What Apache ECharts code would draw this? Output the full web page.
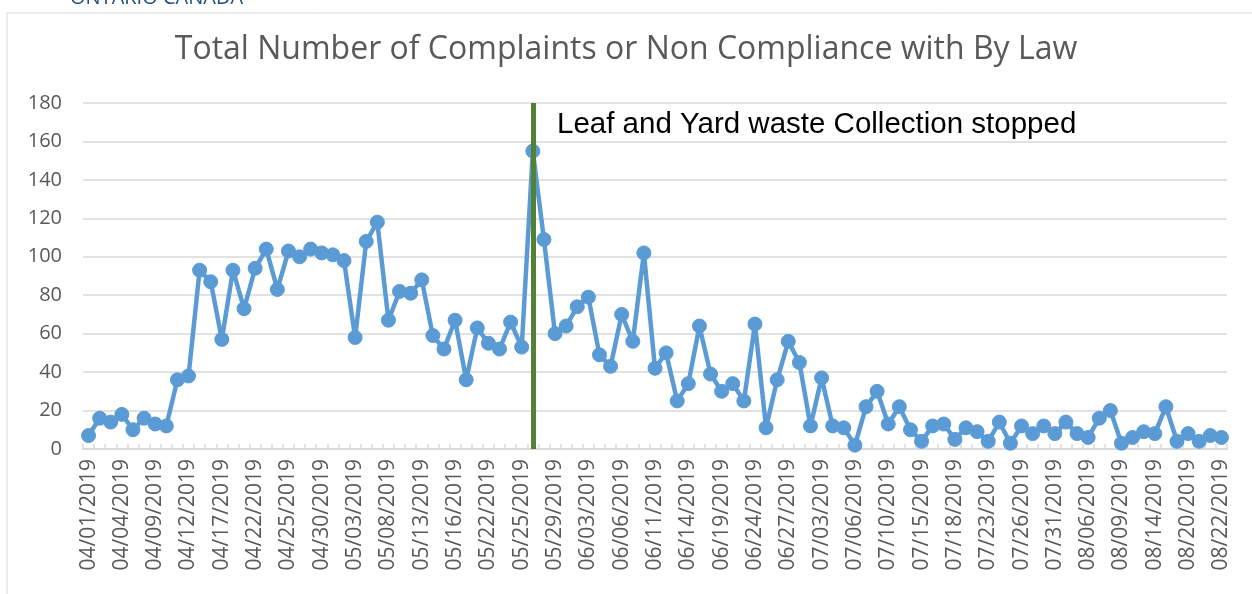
<!DOCTYPE html>
<html>
<head>
<meta charset="utf-8">
<script src="https://cdn.jsdelivr.net/npm/echarts@6/dist/echarts.min.js"></script>
<style>
html,body{margin:0;padding:0;background:#fff;}
#chart{width:1252px;height:594px;}
</style>
</head>
<body>
<div id="chart"></div>
<script>
const titleText = "Total Number of Complaints or Non Compliance with By Law";
const annotationText = "Leaf and Yard waste Collection stopped";
const headerText = "ONTARIO CANADA";
const markerIndex = 40;

const dates = [
"04/01/2019","04/02/2019","04/03/2019","04/04/2019","04/05/2019","04/08/2019","04/09/2019","04/10/2019","04/11/2019","04/12/2019",
"04/15/2019","04/16/2019","04/17/2019","04/18/2019","04/19/2019","04/22/2019","04/23/2019","04/24/2019","04/25/2019","04/26/2019",
"04/29/2019","04/30/2019","05/01/2019","05/02/2019","05/03/2019","05/06/2019","05/07/2019","05/08/2019","05/09/2019","05/10/2019",
"05/13/2019","05/14/2019","05/15/2019","05/16/2019","05/17/2019","05/21/2019","05/22/2019","05/23/2019","05/24/2019","05/25/2019",
"05/27/2019","05/28/2019","05/29/2019","05/30/2019","05/31/2019","06/03/2019","06/04/2019","06/05/2019","06/06/2019","06/07/2019",
"06/10/2019","06/11/2019","06/12/2019","06/13/2019","06/14/2019","06/17/2019","06/18/2019","06/19/2019","06/20/2019","06/21/2019",
"06/24/2019","06/25/2019","06/26/2019","06/27/2019","06/28/2019","07/02/2019","07/03/2019","07/04/2019","07/05/2019","07/06/2019",
"07/08/2019","07/09/2019","07/10/2019","07/11/2019","07/12/2019","07/15/2019","07/16/2019","07/17/2019","07/18/2019","07/19/2019",
"07/22/2019","07/23/2019","07/24/2019","07/25/2019","07/26/2019","07/29/2019","07/30/2019","07/31/2019","08/01/2019","08/02/2019",
"08/06/2019","08/07/2019","08/08/2019","08/09/2019","08/12/2019","08/13/2019","08/14/2019","08/15/2019","08/16/2019","08/20/2019",
"08/21/2019","08/21/2019","08/22/2019"
];

const complaints = [
7,16,14,18,10,16,13,12,36,38,
93,87,57,93,73,94,104,83,103,100,
104,102,101,98,58,108,118,67,82,81,
88,59,52,67,36,63,55,52,66,53,
155,109,60,64,74,79,49,43,70,56,
102,42,50,25,34,64,39,30,34,25,
65,11,36,56,45,12,37,12,11,2,
22,30,13,22,10,4,12,13,5,11,
9,4,14,3,12,8,12,8,14,8,
6,16,20,3,6,9,8,22,4,8,
4,7,6
];

const yTicks = {min: 0, max: 180, interval: 20};

const chart = echarts.init(document.getElementById('chart'), null, {renderer: 'canvas'});
chart.setOption({
  animation: false,
  backgroundColor: '#ffffff',
  title: {
    text: titleText,
    left: 'center',
    top: 29,
    textStyle: {fontFamily: 'Open Sans', fontSize: 32, fontWeight: 'normal', color: '#595959'}
  },
  grid: {left: 83, right: 25, top: 103, bottom: 145, containLabel: false},
  xAxis: {
    type: 'category',
    data: dates,
    boundaryGap: true,
    axisLine: {show: true, lineStyle: {color: '#d9d9d9', width: 2}},
    axisTick: {show: true, inside: true, interval: 0, length: 5, lineStyle: {color: '#d9d9d9', width: 1.5}},
    axisLabel: {
      interval: 2,
      rotate: 90,
      margin: 10,
      fontFamily: 'Open Sans',
      fontSize: 21,
      color: '#595959'
    },
    splitLine: {show: false}
  },
  yAxis: {
    type: 'value',
    min: yTicks.min,
    max: yTicks.max,
    interval: yTicks.interval,
    axisLine: {show: false},
    axisTick: {show: false},
    axisLabel: {margin: 21, fontFamily: 'Open Sans', fontSize: 20, color: '#595959'},
    splitLine: {show: true, lineStyle: {color: '#d9d9d9', width: 1.5}}
  },
  series: [{
    type: 'line',
    data: complaints,
    symbol: 'circle',
    symbolSize: 14,
    showAllSymbol: true,
    itemStyle: {color: '#5b9bd5', borderColor: '#5b9bd5', borderWidth: 1},
    lineStyle: {color: '#5b9bd5', width: 4.5},
    markLine: {
      silent: true,
      symbol: ['none', 'none'],
      label: {show: false},
      lineStyle: {color: '#548235', width: 5, type: 'solid'},
      data: [{xAxis: markerIndex}]
    }
  }],
  graphic: [
    {
      type: 'rect',
      shape: {x: 7, y: 13, width: 1300, height: 700},
      style: {fill: 'none', stroke: '#d9d9d9', lineWidth: 1},
      silent: true
    },
    {
      type: 'text',
      left: 70,
      top: -12,
      style: {text: headerText, fontFamily: 'Open Sans', fontSize: 20, fill: '#1f4e79'}
    },
    {
      type: 'text',
      left: 557,
      top: 110,
      style: {text: annotationText, fontFamily: 'Liberation Sans', fontSize: 29.5, fill: '#000000'}
    }
  ]
});
</script>
</body>
</html>
